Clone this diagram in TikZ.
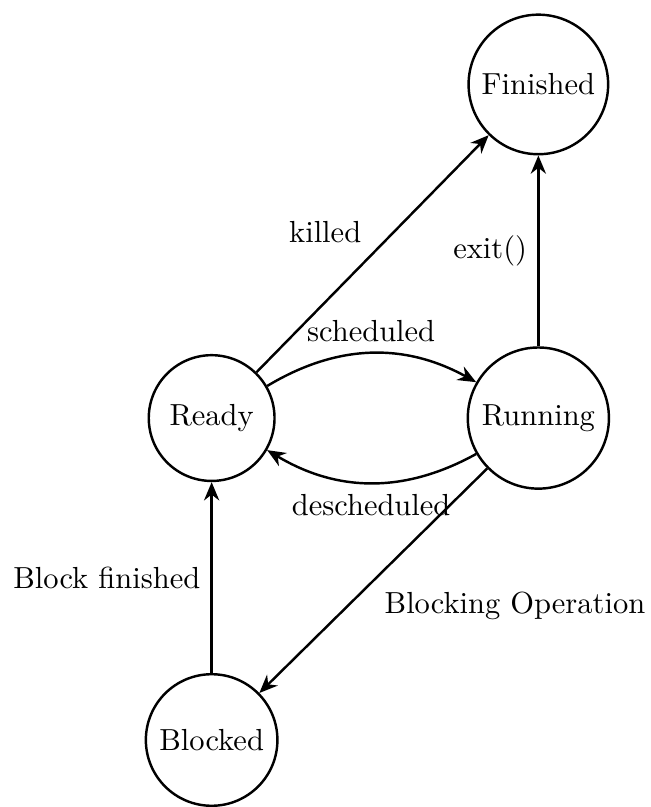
\documentclass[tikz,border=0pt]{standalone}
\usetikzlibrary{arrows.meta,positioning}

\begin{document}
\begin{tikzpicture}[-{Stealth[length=6pt,width=5pt]}, auto, node distance=2.2cm, thick,
main/.style = {draw, circle, minimum size=1.45cm}]
    \node[main] (1) {Ready};
    \node[main] (2) [right=of 1] {Running};
    \node[main] (3) [above=of 2] {Finished};
    \node[main] (4) [below=of 1] {Blocked};

    \useasboundingbox (-2.44,-4.46) rectangle (5.06,4.82);

    \draw (1) to [bend left] node {scheduled} (2);
    \draw (2) to [bend left] node {descheduled} (1);
    \draw (1) -- node {killed} (3);
    \draw (2) -- node {exit()} (3);
    \draw (2) -- node {Blocking Operation} (4);
    \draw (4) -- node {Block finished} (1);
\end{tikzpicture}
\end{document}
